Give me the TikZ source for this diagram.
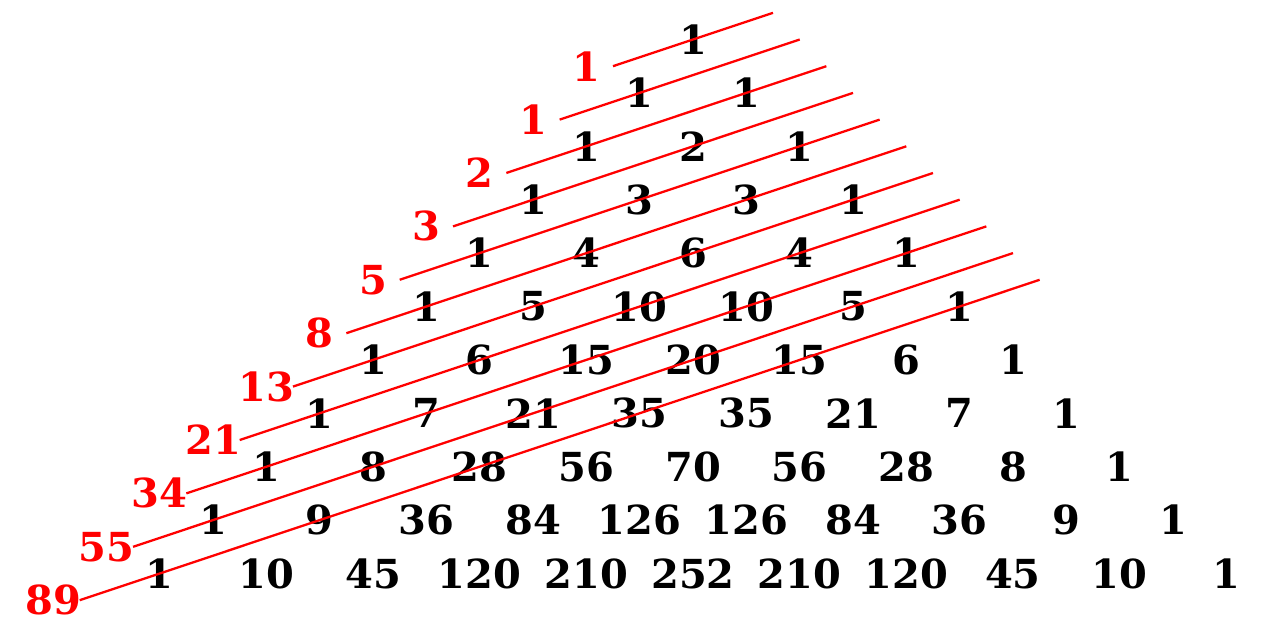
\documentclass[tikz,border=0pt]{standalone}
\usepackage{fontspec}
\setmainfont{DejaVu Serif}
\begin{document}
\begin{tikzpicture}[x=1pt,y=-1pt,
  num/.style={inner sep=0pt,font=\fontsize{40}{40}\selectfont\bfseries,text=black},
  fib/.style={inner sep=0pt,font=\fontsize{40}{40}\selectfont\bfseries,text=red},
  diag/.style={red,line width=2.3pt}]
\useasboundingbox (0,0) rectangle (1280,640);
\begin{scope}[shift={(693,39.5)},x=53.33pt,y=-53.4pt]
\foreach \row [count=\n from 0] in {{1},{1,1},{1,2,1},{1,3,3,1},{1,4,6,4,1},{1,5,10,10,5,1},{1,6,15,20,15,6,1},{1,7,21,35,35,21,7,1},{1,8,28,56,70,56,28,8,1},{1,9,36,84,126,126,84,36,9,1},{1,10,45,120,210,252,210,120,45,10,1}}{
  \foreach \v [count=\k from 0] in \row {
    \node[num] (p-\n-\k) at ({2*\k-\n},\n) {\v};
  }
}
\foreach \f [count=\n from 0] in {1,1,2,3,5,8,13,21,34,55,89}{
  \node[fib] (f-\n) at ({-\n-2},{\n+0.5}) {\f};
  \coordinate (s-\n) at ({-\n-1.5},{\n+0.5});
  \coordinate (e-\n) at ({1.5+0.5*\n},{0.5*\n-0.5});
  \draw[diag] (s-\n) -- (e-\n);
}
\end{scope}
\end{tikzpicture}
\end{document}
